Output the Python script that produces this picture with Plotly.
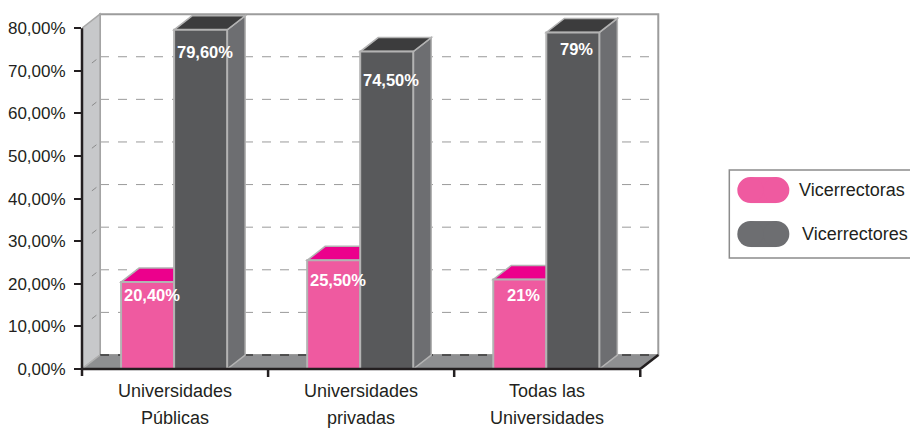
import plotly.graph_objects as go

# ---- data ----
categories = ["Universidades<br>Públicas", "Universidades<br>privadas", "Todas las<br>Universidades"]
series_names = ["Vicerrectoras", "Vicerrectores"]
vicerrectoras = [20.4, 25.5, 21.0]
vicerrectores = [79.6, 74.5, 79.0]
labels_vicerrectoras = ["20,40%", "25,50%", "21%"]
labels_vicerrectores = ["79,60%", "74,50%", "79%"]
y_tickvals = [0, 10, 20, 30, 40, 50, 60, 70, 80]
y_ticktext = ["0,00%", "10,00%", "20,00%", "30,00%", "40,00%", "50,00%", "60,00%", "70,00%", "80,00%"]

# ---- styling ----
FONT = "Liberation Sans, Arial, Helvetica, sans-serif"
TEXT = "#231f20"
PINK_FRONT, PINK_TOP, PINK_SIDE = "#ef5aa0", "#ec008c", "#d4267f"
GREY_FRONT, GREY_TOP, GREY_SIDE = "#58595b", "#3c3c3d", "#6d6e71"
EDGE = "#b3b3b3"

W_FIG, H_FIG = 910, 428
LEFT_PX, BASE_PX = 82, 369          # pixel position of x=-0.5 and y=0
PX_PER_CAT, PX_PER_UNIT = 186.0, 4.2625
DX = 18 / PX_PER_CAT                # depth offset of the pseudo-3D, x units
DY = 14 / PX_PER_UNIT               # depth offset of the pseudo-3D, y units
BAR_W = 0.285
OFFSETS = [-0.29, -0.005]

X_MIN = -0.5
X_MAX = 2.5 + DX + 0.02
Y_MAX = 80 + DY + 0.5
plot_w = (X_MAX - X_MIN) * PX_PER_CAT
plot_h = Y_MAX * PX_PER_UNIT
m_top = BASE_PX - plot_h
m_bottom = H_FIG - BASE_PX
m_right = W_FIG - LEFT_PX - plot_w


def px_x(px):
    return (px - LEFT_PX) / plot_w


def px_y(py):
    return (BASE_PX - py) / plot_h


n = len(categories)
xs = list(range(n))
shapes = []
annotations = []

# back wall
shapes.append(dict(type="rect", xref="x", yref="y", x0=X_MIN + DX, x1=2.5 + DX, y0=DY, y1=80 + DY,
                   fillcolor="white", line=dict(color="#9c9c9c", width=2), layer="below"))
# dashed gridlines on the back wall
for v in y_tickvals[1:-1]:
    shapes.append(dict(type="line", xref="x", yref="y", x0=X_MIN + DX, x1=2.5 + DX, y0=v + DY, y1=v + DY,
                       line=dict(color="#9a9a9a", width=1, dash="dash"), layer="below"))
# left side wall
shapes.append(dict(type="path", xref="x", yref="y",
                   path=f"M {X_MIN},0 L {X_MIN + DX},{DY} L {X_MIN + DX},{80 + DY} L {X_MIN},80 Z",
                   fillcolor="#c7c8ca", line=dict(color="#a8a8a8", width=1.5), layer="below"))
for v in y_tickvals[1:-1]:
    shapes.append(dict(type="line", xref="x", yref="y", x0=X_MIN + DX * 0.55, x1=X_MIN + DX * 0.8,
                       y0=v + DY * 0.55, y1=v + DY * 0.8,
                       line=dict(color="#8a8a8a", width=1), layer="below"))
# floor
shapes.append(dict(type="path", xref="x", yref="y",
                   path=f"M {X_MIN},0 L 2.5,0 L {2.5 + DX},{DY} L {X_MIN + DX},{DY} Z",
                   fillcolor="#8e8f91", line=dict(width=0), layer="below"))
shapes.append(dict(type="line", xref="x", yref="y", x0=X_MIN + DX, x1=2.5 + DX, y0=DY, y1=DY,
                   line=dict(color="#3a3a3a", width=1.5, dash="dash"), layer="below"))
shapes.append(dict(type="line", xref="x", yref="y", x0=X_MIN, x1=X_MIN + DX, y0=0, y1=DY,
                   line=dict(color="#b0b0b0", width=1.5), layer="below"))
shapes.append(dict(type="line", xref="x", yref="y", x0=2.5, x1=2.5 + DX, y0=0, y1=DY,
                   line=dict(color="#231f20", width=2.5), layer="below"))

# top and side faces of each bar, drawn behind the front faces
faces = [(vicerrectoras, OFFSETS[0], PINK_TOP, PINK_SIDE), (vicerrectores, OFFSETS[1], GREY_TOP, GREY_SIDE)]
for values, off, top_c, side_c in faces:
    for i, v in enumerate(values):
        x0 = xs[i] + off
        x1 = x0 + BAR_W
        shapes.append(dict(type="path", xref="x", yref="y",
                           path=f"M {x1},0 L {x1 + DX},{DY} L {x1 + DX},{v + DY} L {x1},{v} Z",
                           fillcolor=side_c, line=dict(color=EDGE, width=1.5), layer="below"))
        shapes.append(dict(type="path", xref="x", yref="y",
                           path=f"M {x0},{v} L {x1},{v} L {x1 + DX},{v + DY} L {x0 + DX},{v + DY} Z",
                           fillcolor=top_c, line=dict(color=EDGE, width=1.5), layer="below"))

# axis lines and ticks
shapes.append(dict(type="line", xref="paper", yref="paper", x0=0, x1=0, y0=px_y(376), y1=80 / Y_MAX,
                   line=dict(color="#231f20", width=2.5)))
shapes.append(dict(type="line", xref="x", yref="paper", x0=X_MIN, x1=2.5, y0=0, y1=0,
                   line=dict(color="#231f20", width=2.5)))
for b in [0.5, 1.5, 2.5]:
    shapes.append(dict(type="line", xref="x", yref="paper", x0=b, x1=b, y0=0, y1=px_y(377),
                       line=dict(color="#231f20", width=2.5)))

# category labels, one annotation per text line
for i, cat in enumerate(categories):
    for k, line in enumerate(cat.split("<br>")):
        annotations.append(dict(x=xs[i], xref="x", y=px_y(391 + 27 * k), yref="paper", text=line,
                                showarrow=False, xanchor="center", yanchor="middle",
                                font=dict(family=FONT, size=18, color=TEXT)))

fig = go.Figure()
fig.add_trace(go.Bar(name=series_names[0], x=xs, y=vicerrectoras, width=BAR_W, offset=OFFSETS[0],
                     marker=dict(color=PINK_FRONT, line=dict(color=EDGE, width=2)),
                     showlegend=False, hoverinfo="skip"))
fig.add_trace(go.Bar(name=series_names[1], x=xs, y=vicerrectores, width=BAR_W, offset=OFFSETS[1],
                     marker=dict(color=GREY_FRONT, line=dict(color=EDGE, width=2)),
                     showlegend=False, hoverinfo="skip"))

# value labels inside the bars
label_drop_f = [13, 20, 15]
label_drop_m = [22, 28, 17]
for values, texts, off, drops in [(vicerrectoras, labels_vicerrectoras, OFFSETS[0], label_drop_f),
                                  (vicerrectores, labels_vicerrectores, OFFSETS[1], label_drop_m)]:
    for i, v in enumerate(values):
        annotations.append(dict(x=xs[i] + off + BAR_W / 2, xref="x", y=v, yref="y", text=f"<b>{texts[i]}</b>",
                                showarrow=False, xanchor="center", yanchor="middle", xshift=4, yshift=-drops[i],
                                font=dict(family=FONT, size=16.5, color="white")))

# legend box with pill-shaped keys
shapes.append(dict(type="rect", xref="paper", yref="paper", x0=px_x(729), x1=px_x(918),
                   y0=px_y(258), y1=px_y(170), fillcolor="white", line=dict(color="#8c8c8c", width=1.5)))
legend_rows = [(series_names[0], PINK_FRONT, 190, 797), (series_names[1], GREY_SIDE, 234, 800)]
for name, color, cy, tx in legend_rows:
    r = 13
    shapes.append(dict(type="rect", xref="paper", yref="paper", x0=px_x(737 + r), x1=px_x(789 - r),
                       y0=px_y(cy + r), y1=px_y(cy - r), fillcolor=color, line=dict(width=0)))
    for cx in (737 + r, 789 - r):
        shapes.append(dict(type="circle", xref="paper", yref="paper", x0=px_x(cx - r), x1=px_x(cx + r),
                           y0=px_y(cy + r), y1=px_y(cy - r), fillcolor=color, line=dict(width=0)))
    annotations.append(dict(x=px_x(tx), xref="paper", y=px_y(cy), yref="paper", text=name,
                            showarrow=False, xanchor="left", yanchor="middle",
                            font=dict(family=FONT, size=18, color=TEXT)))

fig.update_layout(
    width=W_FIG, height=H_FIG, autosize=False,
    margin=dict(l=LEFT_PX, r=m_right, t=m_top, b=m_bottom, autoexpand=False),
    paper_bgcolor="white", plot_bgcolor="rgba(0,0,0,0)",
    barmode="overlay", showlegend=False,
    shapes=shapes, annotations=annotations,
    xaxis=dict(range=[X_MIN, X_MAX], showgrid=False, zeroline=False, showline=False,
               showticklabels=False, ticks="", fixedrange=True),
    yaxis=dict(range=[0, Y_MAX], showgrid=False, zeroline=False, showline=False,
               tickvals=y_tickvals, ticktext=y_ticktext, ticks="outside", ticklen=7, tickwidth=2,
               tickcolor="#231f20", ticklabelstandoff=5,
               tickfont=dict(family=FONT, size=17, color=TEXT), fixedrange=True),
)

fig.write_html("out.html")
